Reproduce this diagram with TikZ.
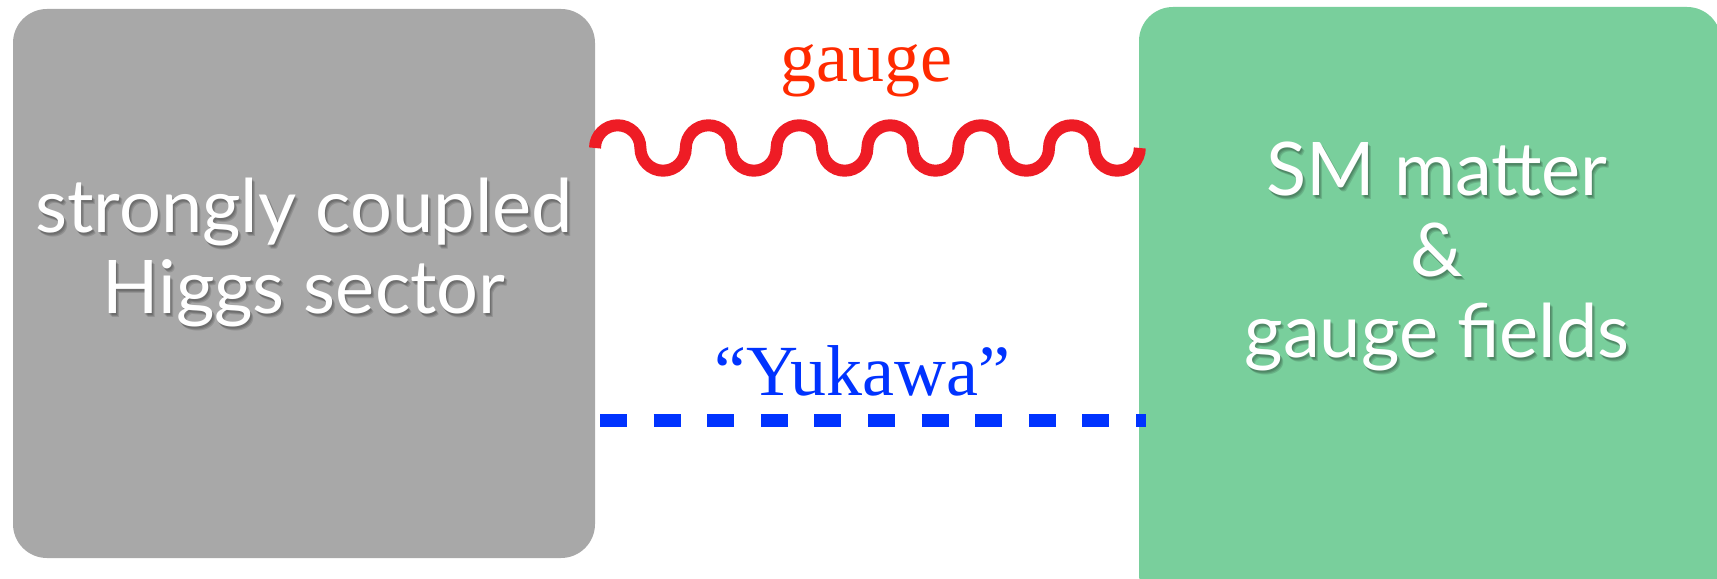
\documentclass[tikz,border=0pt]{standalone}
\usepackage{fontspec}
\setmainfont{Liberation Serif}
\newfontfamily\panelfont{Lato}
\usetikzlibrary{calc}
\definecolor{panelgrey}{HTML}{A8A8A8}
\definecolor{panelgreen}{HTML}{79CF9C}
\definecolor{wavered}{HTML}{EE1C25}
\definecolor{gaugetext}{HTML}{FF2A00}
\definecolor{yukblue}{HTML}{0033FF}
\begin{document}
\begin{tikzpicture}[x=0.5pt,y=0.5pt,
  panel/.style={rounded corners=17pt, inner sep=0pt, outer sep=0pt},
  paneltext/.style={font=\panelfont\fontsize{37}{40.5}\selectfont, text=white, align=center, inner sep=0pt},
  panelshadow/.style={paneltext, text=black, text opacity=0.13},
  gaugeline/.style={draw=wavered, line width=6pt, line cap=butt},
  yukline/.style={draw=yukblue, line width=6.5pt, dash pattern=on 13.5pt off 13.3pt},
  linklabel/.style={font=\fontsize{36}{43}\selectfont, anchor=base, inner sep=0pt}]
\useasboundingbox (0,0) rectangle (1717,578);
\clip (0,0) rectangle (1717,578);
\fill[white] (0,0) rectangle (1717,578);

% the two sectors
\node[panel, fill=panelgrey, minimum width=291pt, minimum height=274.5pt] (L) at (304,294.5) {};
\node[panel, fill=panelgreen, minimum width=291pt, minimum height=300.5pt] (R) at (1430,270.5) {};

% panel captions with a soft drop shadow
\foreach \dx/\dy [count=\k] in {1/-2,2/-3,3/-4} {
  \node[panelshadow] (Ls\k) at ($(304,325)+(\dx,\dy)$) {strongly coupled\\Higgs sector};
  \node[panelshadow] (Rs\k) at ($(1437,322)+(\dx,\dy)$) {SM matter\\\&\\gauge fields};
}
\node[paneltext] (Ltext) at (304,325) {strongly coupled\\Higgs sector};
\node[paneltext] (Rtext) at (1437,322) {SM matter\\\&\\gauge fields};

% gauge interaction: wavy line made of half circles
\draw[gaugeline] (L.east |- 0,430)
  \foreach \i in {1,...,6} { arc[start angle=180, end angle=0, radius=22.7]
                             arc[start angle=180, end angle=360, radius=22.7] };
\node[linklabel, text=gaugetext] (gauge) at (866,496) {gauge};

% Yukawa interaction: dashed line
\coordinate (ya) at ($(L.east |- 0,157)+(5,0)$);
\coordinate (yb) at ($(R.west |- 0,157)+(7,0)$);
\draw[yukline] (ya) -- (yb);
\node[linklabel, text=yukblue] (yuk) at (862,182) {“Yukawa”};
\end{tikzpicture}
\end{document}
